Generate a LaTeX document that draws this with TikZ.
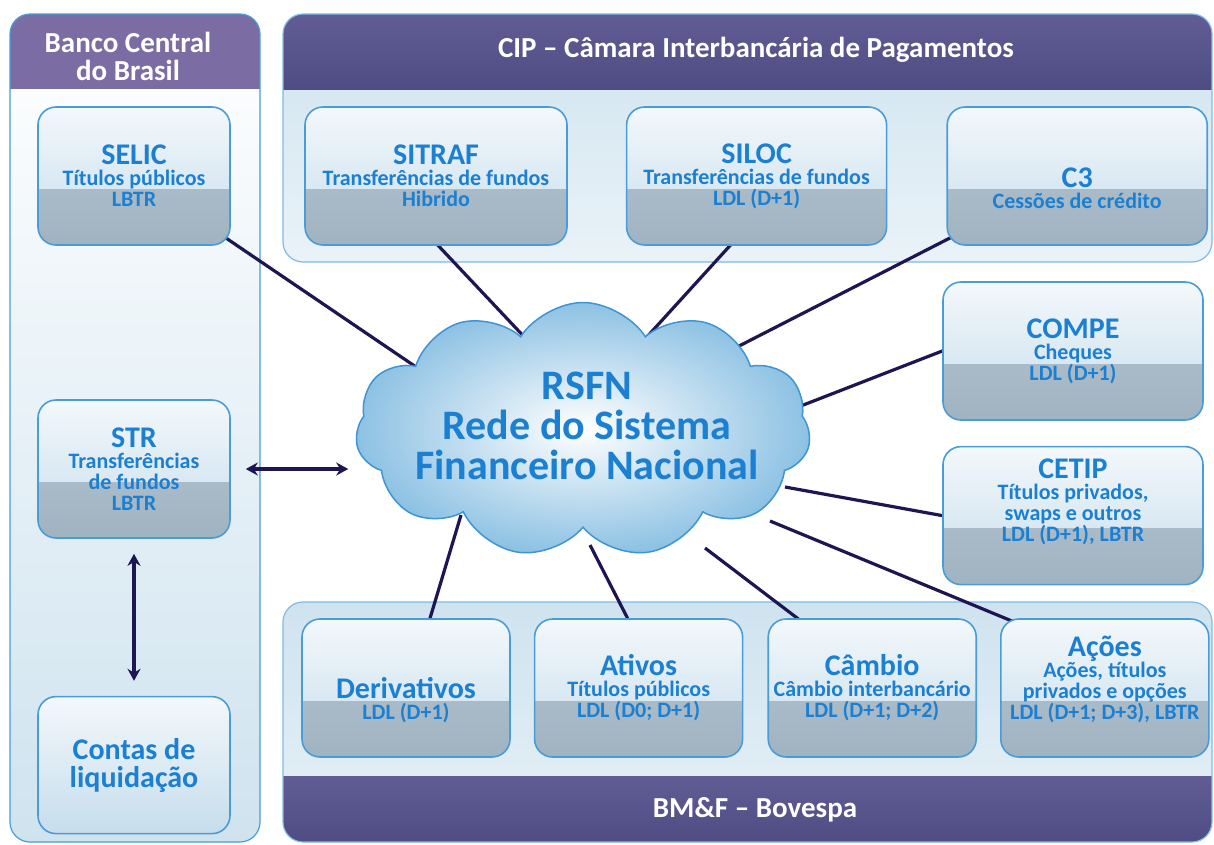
\documentclass[tikz,border=0pt]{standalone}
\usepackage{fontspec}
\setmainfont{Carlito}
\usetikzlibrary{positioning, shapes.symbols, arrows.meta, calc}

\definecolor{sysblue}{HTML}{1B7FD2}
\definecolor{edgeblue}{HTML}{4A9CD8}
\definecolor{linknavy}{HTML}{1D1652}
\definecolor{bcbpurple}{HTML}{7B6CA4}
\definecolor{cippurple}{HTML}{615D94}
\definecolor{cipdark}{HTML}{4F4C84}
\definecolor{panelblue}{HTML}{CFE3EF}
\definecolor{boxtop}{HTML}{F3F8FB}
\definecolor{boxmid}{HTML}{C6DDEC}
\definecolor{bandtop}{HTML}{B7C7D2}
\definecolor{bandbot}{HTML}{A0B3C1}
\definecolor{cloudedge}{HTML}{3D95D5}
\definecolor{cloudout}{HTML}{8CC1E3}

\pgfdeclarelayer{background}
\pgfsetlayers{background,main}

\tikzset{
  sysbox/.style={draw=edgeblue, line width=1.6pt, rounded corners=18pt,
    minimum width=#1, minimum height=138pt, inner sep=0pt, align=center,
    text=sysblue, font=\fontsize{22}{21}\selectfont\bfseries,
    top color=boxtop, bottom color=boxmid,
    path picture={\shade[sharp corners, top color=bandtop, bottom color=bandbot]
      ($(path picture bounding box.east)+(0pt,-13pt)$) rectangle
      (path picture bounding box.south west);}},
  plainbox/.style={draw=edgeblue, line width=1.6pt, rounded corners=18pt,
    minimum width=#1, minimum height=137pt, inner sep=0pt, align=center,
    text=sysblue, font=\fontsize{30}{28}\selectfont\bfseries,
    top color=boxtop, bottom color=boxmid},
  link/.style={draw=linknavy, line width=3.2pt, shorten <=-8pt},
  both/.style={draw=linknavy, line width=3.5pt,
    {Stealth[length=12pt,width=13pt]}-{Stealth[length=12pt,width=13pt]}},
  headtext/.style={text=white, font=\fontsize{29}{28}\selectfont\bfseries, align=center},
}
\newcommand{\systitle}[1]{{\fontsize{30}{30}\selectfont #1}}

\begin{document}
\begin{tikzpicture}[x=1pt, y=-1pt]
\useasboundingbox (0,0) rectangle (1214,844);

% panels
\begin{pgfonlayer}{background}
\shade[top color=white, bottom color=panelblue, rounded corners=20pt] (10,14) rectangle (260,842);
\begin{scope}
  \clip[rounded corners=20pt] (10,14) rectangle (260,842);
  \fill[bcbpurple] (10,14) rectangle (260,89);
\end{scope}
\draw[edgeblue, line width=1.2pt, rounded corners=20pt] (10,14) rectangle (260,842);

\shade[top color=panelblue, bottom color=panelblue!45!white, rounded corners=20pt] (283,14) rectangle (1212,262);
\begin{scope}
  \clip[rounded corners=20pt] (283,14) rectangle (1212,262);
  \shade[top color=cippurple, bottom color=cipdark] (283,14) rectangle (1212,89);
\end{scope}
\draw[edgeblue!70, line width=1.2pt, rounded corners=20pt] (283,14) rectangle (1212,262);

\shade[top color=panelblue, bottom color=panelblue!50!white, rounded corners=20pt] (283,602) rectangle (1212,842);
\begin{scope}
  \clip[rounded corners=20pt] (283,602) rectangle (1212,842);
  \shade[top color=cippurple, bottom color=cipdark] (283,776) rectangle (1212,842);
\end{scope}
\draw[edgeblue!70, line width=1.2pt, rounded corners=20pt] (283,602) rectangle (1212,842);
\end{pgfonlayer}

\node[headtext] (bcbhead) at (128,56) {Banco Central\\do Brasil};
\node[headtext] (ciphead) at (756,50) {CIP -- Câmara Interbancária de Pagamentos};
\node[headtext] (bmfhead) at (755,810) {BM\&F -- Bovespa};

% Banco Central
\node[sysbox=192pt] (selic) at (134,176) {\systitle{SELIC}\\Títulos públicos\\LBTR};
\node[sysbox=192pt] (str) at (134,469) {\systitle{STR}\\Transferências\\de fundos\\LBTR};
\node[plainbox=192pt, below=157pt of str] (contas) {Contas de\\liquidação};

% CIP
\node[sysbox=262pt] (sitraf) at (436,176) {\systitle{SITRAF}\\Transferências de fundos\\Hibrido};
\node[sysbox=260pt, right=58pt of sitraf] (siloc) {\systitle{SILOC}\\Transferências de fundos\\LDL (D+1)};
\node[sysbox=260pt, right=59pt of siloc, text height=66pt] (c3) {\systitle{C3}\\Cessões de crédito};
\node[sysbox=260pt] (compe) at (1073,351) {\systitle{COMPE}\\Cheques\\LDL (D+1)};
\node[sysbox=260pt, below=25pt of compe, text depth=30pt] (cetip) {\systitle{CETIP}\\Títulos privados,\\swaps e outros\\LDL (D+1), LBTR};

% BM&F Bovespa
\node[sysbox=208pt, text height=66pt] (deriv) at (406,688) {\systitle{Derivativos}\\LDL (D+1)};
\node[sysbox=208pt, right=23pt of deriv] (ativos) {\systitle{Ativos}\\Títulos públicos\\LDL (D0; D+1)};
\node[sysbox=208pt, right=24pt of ativos] (cambio) {\systitle{Câmbio}\\Câmbio interbancário\\LDL (D+1; D+2)};
\node[sysbox=208pt, right=23pt of cambio, text depth=20pt] (acoes) {\systitle{Ações}\\Ações, títulos\\privados e opções\\LDL (D+1; D+3), LBTR};

% hub points under the cloud
\coordinate (hselic) at (450,390);
\coordinate (hsitraf) at (530,343);
\coordinate (hsiloc) at (645,339);
\coordinate (hc3) at (700,366);
\coordinate (hcompe) at (775,416);
\coordinate (hcetip) at (785,487);
\coordinate (hderiv) at (461,515);
\coordinate (hativos) at (590,545);
\coordinate (hcambio) at (705,548);
\coordinate (hacoes) at (770,521);

\begin{pgfonlayer}{background}
\draw[link] (selic.-34) -- (hselic);
\draw[link] (sitraf.-88) -- (hsitraf);
\draw[link] (siloc.-111) -- (hsiloc);
\draw[link] (c3.-154) -- (hc3);
\draw[link] (compe.west) -- (hcompe);
\draw[link] (cetip.west) -- (hcetip);
\draw[link] (deriv.71) -- (hderiv);
\draw[link] (ativos.99) -- (hativos);
\draw[link] (cambio.137) -- (hcambio);
\draw[link] (acoes.145) -- (hacoes);
\end{pgfonlayer}

% RSFN cloud
\node[cloud, cloud puffs=11, cloud puff arc=115, aspect=1.75,
  minimum width=455pt, minimum height=255pt, inner sep=0pt,
  draw=cloudedge, line width=1.5pt, inner color=white, outer color=cloudout] (rsfn) at (583,430) {};
\node[text=sysblue, font=\fontsize{42}{40}\selectfont\bfseries, align=center] (rsfntext) at (587,426)
  {RSFN\\Rede do Sistema\\Financeiro Nacional};

\draw[both, shorten <=15pt, shorten >=8pt] (str.east) -- (str.east -| rsfn.west);
\draw[both, shorten <=15pt, shorten >=15pt] (str.south) -- (contas.north);
\end{tikzpicture}
\end{document}
